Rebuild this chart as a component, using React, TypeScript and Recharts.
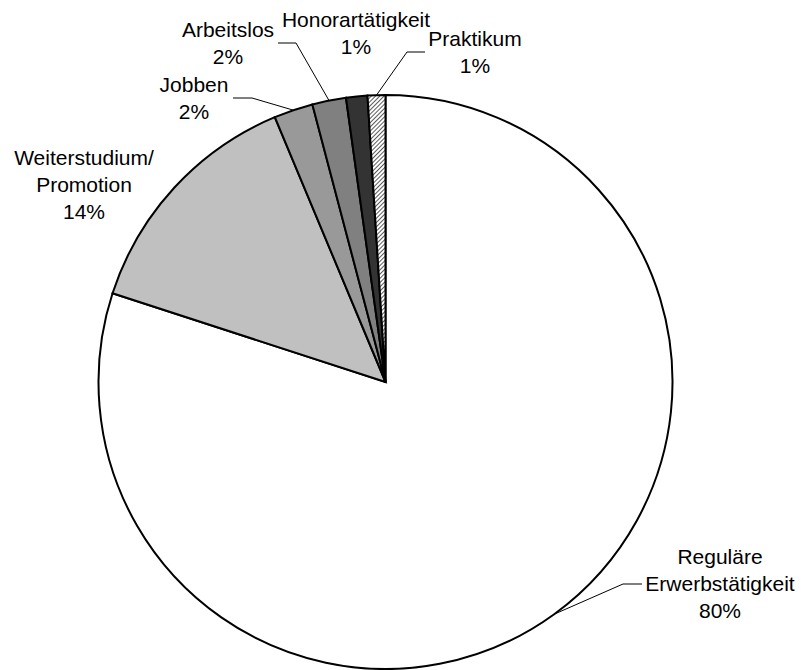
import React from 'react';
import { PieChart, Pie, Cell } from 'recharts';

const categories = [
  'Reguläre Erwerbstätigkeit',
  'Weiterstudium/Promotion',
  'Jobben',
  'Arbeitslos',
  'Honorartätigkeit',
  'Praktikum',
];
const shares = [80.0, 13.7, 2.2, 1.9, 1.2, 1.0];
const fills = ['#FFFFFF', '#C0C0C0', '#999999', '#808080', '#333333', 'url(#hatch)'];

const data = categories.map((name, i) => ({ name, value: shares[i] }));

// label layout: text anchor offsets from pie centre, optional leader elbow/end offsets
const labelLayout = [
  { tx: 334.5, ty: 182, elbow: [237.5, 202], end: [256.5, 202] },
  { tx: -301.5, ty: -217 },
  { tx: -191.5, ty: -290, elbow: [-133.5, -284], end: [-152.5, -284] },
  { tx: -157.5, ty: -345, elbow: [-89.5, -339], end: [-107.5, -339] },
  { tx: -29.5, ty: -355 },
  { tx: 89.5, ty: -336, elbow: [21.5, -330], end: [39.5, -330] },
];

const RAD = Math.PI / 180;
const LINE_H = 27;

const renderLabel = (props: any) => {
  const { cx, cy, midAngle, outerRadius, index, name, value } = props;
  const lay = labelLayout[index];
  const lines: string[] = String(name).split(/(?<=\/)| /);
  lines.push(`${Math.round(value)}%`);
  const sx = cx + outerRadius * Math.cos(-midAngle * RAD);
  const sy = cy + outerRadius * Math.sin(-midAngle * RAD);
  return (
    <g key={`lbl-${index}`}>
      {lay.elbow && lay.end ? (
        <polyline
          points={`${sx},${sy} ${cx + lay.elbow[0]},${cy + lay.elbow[1]} ${cx + lay.end[0]},${cy + lay.end[1]}`}
          fill="none"
          stroke="#000"
          strokeWidth={1}
        />
      ) : null}
      <text
        x={cx + lay.tx}
        y={cy + lay.ty}
        textAnchor="middle"
        fill="#000"
        fontSize={21}
        fontFamily="'Liberation Sans', Arial, sans-serif"
      >
        {lines.map((l, k) => (
          <tspan key={k} x={cx + lay.tx} y={cy + lay.ty + k * LINE_H}>
            {l}
          </tspan>
        ))}
      </text>
    </g>
  );
};

export default function App() {
  return (
    <div style={{ position: 'absolute', left: 0, top: 0, width: 801, height: 670, background: '#fff' }}>
      <PieChart width={801} height={670} margin={{ top: 0, right: 0, bottom: 0, left: 0 }}>
        <defs>
          <pattern id="hatch" patternUnits="userSpaceOnUse" width="3" height="3" patternTransform="rotate(45)">
            <rect width="3" height="3" fill="#fff" />
            <line x1="0" y1="0" x2="0" y2="3" stroke="#000" strokeWidth="1.3" />
          </pattern>
        </defs>
        <Pie
          data={data}
          dataKey="value"
          nameKey="name"
          cx={385.5}
          cy={382}
          outerRadius={287}
          startAngle={90}
          endAngle={-270}
          stroke="#000"
          strokeWidth={2}
          label={renderLabel}
          labelLine={false}
          isAnimationActive={false}
        >
          {data.map((d, i) => (
            <Cell key={d.name} fill={fills[i]} stroke="#000" strokeWidth={2} />
          ))}
        </Pie>
      </PieChart>
    </div>
  );
}
